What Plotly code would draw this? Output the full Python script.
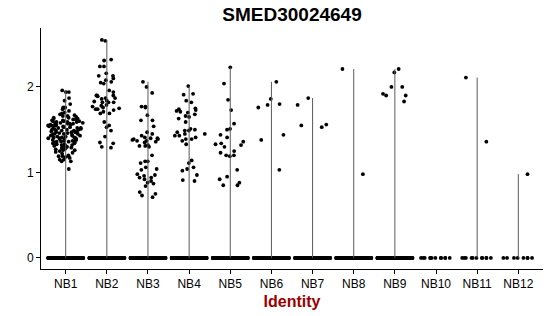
import plotly.graph_objects as go

title = "SMED30024649"
categories = ["NB1", "NB2", "NB3", "NB4", "NB5", "NB6", "NB7", "NB8", "NB9", "NB10", "NB11", "NB12"]

# number of cells with zero expression in each identity (estimated)
zero_counts = [300, 300, 300, 300, 300, 120, 220, 200, 160, 12, 11, 8]

nb1 = [1.96, 1.94, 1.94, 1.87, 1.84, 1.80, 1.76, 1.76, 1.74, 1.72, 1.70, 1.69, 1.68, 1.67, 1.66, 1.66,
       1.65, 1.64, 1.64, 1.63, 1.63, 1.62, 1.62, 1.61, 1.61, 1.60, 1.60, 1.60, 1.59, 1.59, 1.59, 1.58,
       1.58, 1.58, 1.57, 1.57, 1.57, 1.56, 1.56, 1.56, 1.55, 1.55, 1.55, 1.54, 1.54, 1.54, 1.53, 1.53,
       1.52, 1.52, 1.52, 1.51, 1.51, 1.50, 1.50, 1.50, 1.49, 1.49, 1.49, 1.48, 1.48, 1.47, 1.47, 1.47,
       1.46, 1.46, 1.45, 1.45, 1.45, 1.44, 1.44, 1.43, 1.43, 1.43, 1.42, 1.42, 1.41, 1.41, 1.41, 1.40,
       1.40, 1.40, 1.39, 1.39, 1.38, 1.38, 1.38, 1.37, 1.37, 1.36, 1.36, 1.36, 1.35, 1.35, 1.34, 1.34,
       1.33, 1.33, 1.32, 1.32, 1.31, 1.31, 1.30, 1.30, 1.29, 1.28, 1.28, 1.27, 1.26, 1.26, 1.25, 1.24,
       1.23, 1.22, 1.20, 1.19, 1.19, 1.19, 1.18, 1.17, 1.15, 1.15, 1.13, 1.13, 1.04]
nb2 = [2.54, 2.55, 2.31, 2.32, 2.24, 2.24, 2.16, 2.13, 2.13, 2.08, 2.10, 2.04, 2.05, 2.06, 1.96, 1.94,
       1.90, 1.90, 1.87, 1.89, 1.90, 1.87, 1.86, 1.83, 1.82, 1.82, 1.84, 1.82, 1.79, 1.78, 1.77, 1.76,
       1.75, 1.74, 1.74, 1.73, 1.69, 1.71, 1.69, 1.59, 1.49, 1.55, 1.53, 1.42, 1.35, 1.29, 1.30, 1.34]
nb3 = [2.06, 2.00, 1.93, 1.76, 1.77, 1.77, 1.67, 1.61, 1.61, 1.54, 1.45, 1.47, 1.40, 1.43, 1.41, 1.39,
       1.40, 1.38, 1.36, 1.39, 1.37, 1.32, 1.35, 1.31, 1.30, 1.31, 1.37, 1.20, 1.13, 1.11, 1.13, 1.06,
       1.04, 0.97, 0.98, 0.92, 0.94, 0.90, 0.88, 0.84, 0.77, 0.73, 0.96, 0.87, 0.71, 0.75, 0.94, 1.03]
nb4 = [2.01, 1.92, 1.91, 1.82, 1.84, 1.72, 1.75, 1.73, 1.74, 1.70, 1.68, 1.71, 1.66, 1.65, 1.63, 1.59,
       1.50, 1.49, 1.51, 1.49, 1.47, 1.45, 1.45, 1.43, 1.41, 1.39, 1.39, 1.37, 1.43, 1.33, 1.11, 1.04,
       1.02, 0.97, 1.06, 0.91, 0.90, 1.14]
nb5 = [2.23, 2.04, 1.85, 1.73, 1.57, 1.51, 1.50, 1.44, 1.41, 1.33, 1.36, 1.34, 1.32, 1.30, 1.25, 1.23,
       1.20, 1.19, 1.20, 1.03, 0.95, 0.85, 0.92, 0.88, 0.85]
nb6 = [2.06, 1.86, 1.79, 1.80, 1.76, 1.44, 1.38, 1.03]
nb7 = [1.87, 1.79, 1.56, 1.55, 1.53]
nb8 = [2.21, 0.98]
nb9 = [2.21, 2.17, 2.00, 2.00, 1.92, 1.90, 1.90, 1.83]
nb10 = []
nb11 = [2.11, 1.36]
nb12 = [0.98]

expressed = [nb1, nb2, nb3, nb4, nb5, nb6, nb7, nb8, nb9, nb10, nb11, nb12]

fig = go.Figure()

# thin violins: outline from 0 to group maximum
vx, vy = [], []
for i, vals in enumerate(expressed):
    if vals:
        vx += [i, i, None]
        vy += [0, max(vals), None]
fig.add_trace(go.Scatter(x=vx, y=vy, mode="lines", line=dict(color="#5a5a5a", width=1),
                         hoverinfo="skip", showlegend=False))

invisible = "rgba(0,0,0,0)"
for i, (vals, nz) in enumerate(zip(expressed, zero_counts)):
    for data in ([0.0] * nz, vals):
        if not data:
            continue
        fig.add_trace(go.Box(
            y=data, x0=i, width=0.86, boxpoints="all", jitter=1, pointpos=0,
            fillcolor=invisible, line=dict(color=invisible, width=0),
            marker=dict(color="black", size=3.8),
            hoverinfo="skip", showlegend=False))

fig.update_layout(
    width=550, height=316,
    margin=dict(l=41, r=7, t=28, b=47),
    paper_bgcolor="white", plot_bgcolor="white",
    boxmode="overlay",
    font=dict(family="Liberation Sans, Arial, sans-serif", color="black", size=12),
    title=dict(text="<b>" + title + "</b>", x=292 / 550, xref="container", xanchor="center",
               y=0.955, yref="container", yanchor="middle",
               font=dict(size=19, color="black")),
    showlegend=False,
)
fig.update_xaxes(
    range=[-0.6, 11.6], tickmode="array", tickvals=list(range(len(categories))),
    ticktext=categories, showline=True, linecolor="black", linewidth=1,
    ticks="outside", ticklen=4, tickcolor="black", showgrid=False, zeroline=False,
    tickfont=dict(size=12, color="black"),
    title=dict(text="<b>Identity</b>", font=dict(size=16, color="#9b0000"), standoff=5),
)
fig.update_yaxes(
    range=[-0.13, 2.69], tickvals=[0, 1, 2], showline=True, linecolor="black", linewidth=1,
    ticks="outside", ticklen=4, tickcolor="black", showgrid=False, zeroline=False,
    tickfont=dict(size=12, color="black"),
)

fig.write_html("out.html")
